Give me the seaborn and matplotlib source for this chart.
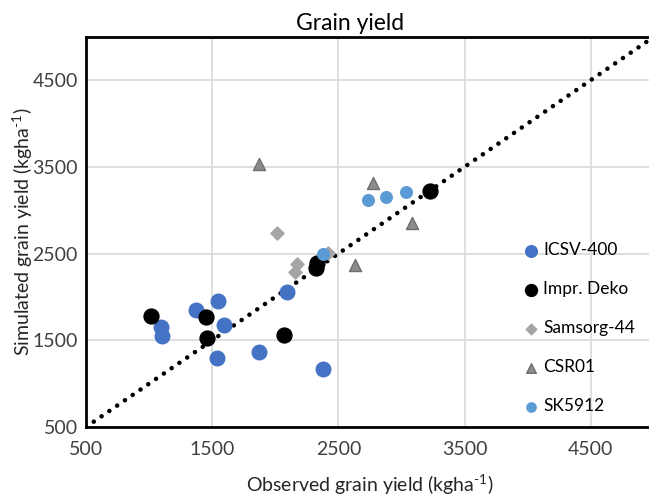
import matplotlib
matplotlib.use("Agg")
import matplotlib.pyplot as plt
import seaborn as sns
import pandas as pd

# Observed vs simulated grain yield (kg/ha) per variety
icsv_obs = [1092, 1100, 1374, 1548, 1596, 1536, 1868, 2090, 2376]
icsv_sim = [1653, 1544, 1853, 1953, 1671, 1294, 1370, 2057, 1171]

deko_obs = [1013, 1453, 1459, 2067, 2330, 2322, 3226]
deko_sim = [1775, 1772, 1529, 1555, 2396, 2338, 3220]

samsorg_obs = [2013, 2170, 2156, 2420]
samsorg_sim = [2731, 2380, 2285, 2508]

csr_obs = [1868, 2772, 3086, 2632]
csr_sim = [3529, 3317, 2855, 2373]

sk_obs = [2732, 2880, 3036, 2376]
sk_sim = [3116, 3151, 3209, 2500]

axis_range = [500, 5000]
tick_values = [500, 1500, 2500, 3500, 4500]

series = [
    ("ICSV-400", icsv_obs, icsv_sim, "o", "#4472C4", "#4472C4", 110),
    ("Impr. Deko", deko_obs, deko_sim, "o", "#000000", "#000000", 115),
    ("Samsorg-44", samsorg_obs, samsorg_sim, "D", "#A5A5A5", "#A5A5A5", 45),
    ("CSR01", csr_obs, csr_sim, "^", "#8C8C8C", "#6E6E6E", 75),
    ("SK5912", sk_obs, sk_sim, "o", "#5B9BD5", "#5B9BD5", 70),
]

sns.set_theme(style="white")
plt.rcParams["font.family"] = ["Lato", "DejaVu Sans"]
plt.rcParams["mathtext.fontset"] = "custom"
plt.rcParams["mathtext.rm"] = "Lato"
plt.rcParams["mathtext.it"] = "Lato:italic"
plt.rcParams["mathtext.bf"] = "Lato:bold"

fig = plt.figure(figsize=(6.49, 4.98), dpi=100)
ax = fig.add_axes([86 / 649, 71 / 498, 568 / 649, 390.3 / 498])

ax.grid(True, color="#D9D9D9", linewidth=1.2)
ax.set_axisbelow(True)

# 1:1 reference line
ax.plot(axis_range, axis_range, color="black", linewidth=3.3,
        linestyle=(0, (0.01, 2.05)), dash_capstyle="round", zorder=1.5)

for name, xs, ys, mk, fc, ec, s in series:
    df = pd.DataFrame({"obs": xs, "sim": ys})
    sns.scatterplot(data=df, x="obs", y="sim", marker=mk, color=fc,
                    edgecolor=ec, linewidth=1.0, s=s, ax=ax, label=name,
                    zorder=3)

ax.set_xlim(axis_range)
ax.set_ylim(axis_range)
ax.set_xticks(tick_values)
ax.set_yticks(tick_values)
ax.tick_params(axis="x", labelsize=14, pad=10, length=0)
ax.tick_params(axis="y", labelsize=14, pad=6, length=0)
for lab in ax.get_xticklabels() + ax.get_yticklabels():
    lab.set_color("#404040")

for side in ["left", "bottom", "top"]:
    ax.spines[side].set_color("black")
    ax.spines[side].set_linewidth(2)
ax.spines["right"].set_visible(False)

ax.set_xlabel(r"Observed grain yield (kgha$^{\text{-1}}$)", fontsize=14,
              color="#262626")
ax.set_ylabel(r"Simulated grain yield (kgha$^{\text{-1}}$)", fontsize=14,
              color="#262626")
ax.xaxis.set_label_coords(0.5, -0.118)
ax.yaxis.set_label_coords(-0.089, 0.5)
ax.set_title("Grain yield", fontsize=16.5, color="black", pad=5, x=0.465)

leg = ax.legend(loc="center left", bbox_to_anchor=(0.771, 0.253),
                frameon=False, fontsize=12.5, handlelength=0.8,
                handletextpad=0.3, labelspacing=1.33, borderpad=0,
                borderaxespad=0, markerscale=0.8)
for t in leg.get_texts():
    t.set_color("black")

fig.savefig("out.png", dpi=100)
